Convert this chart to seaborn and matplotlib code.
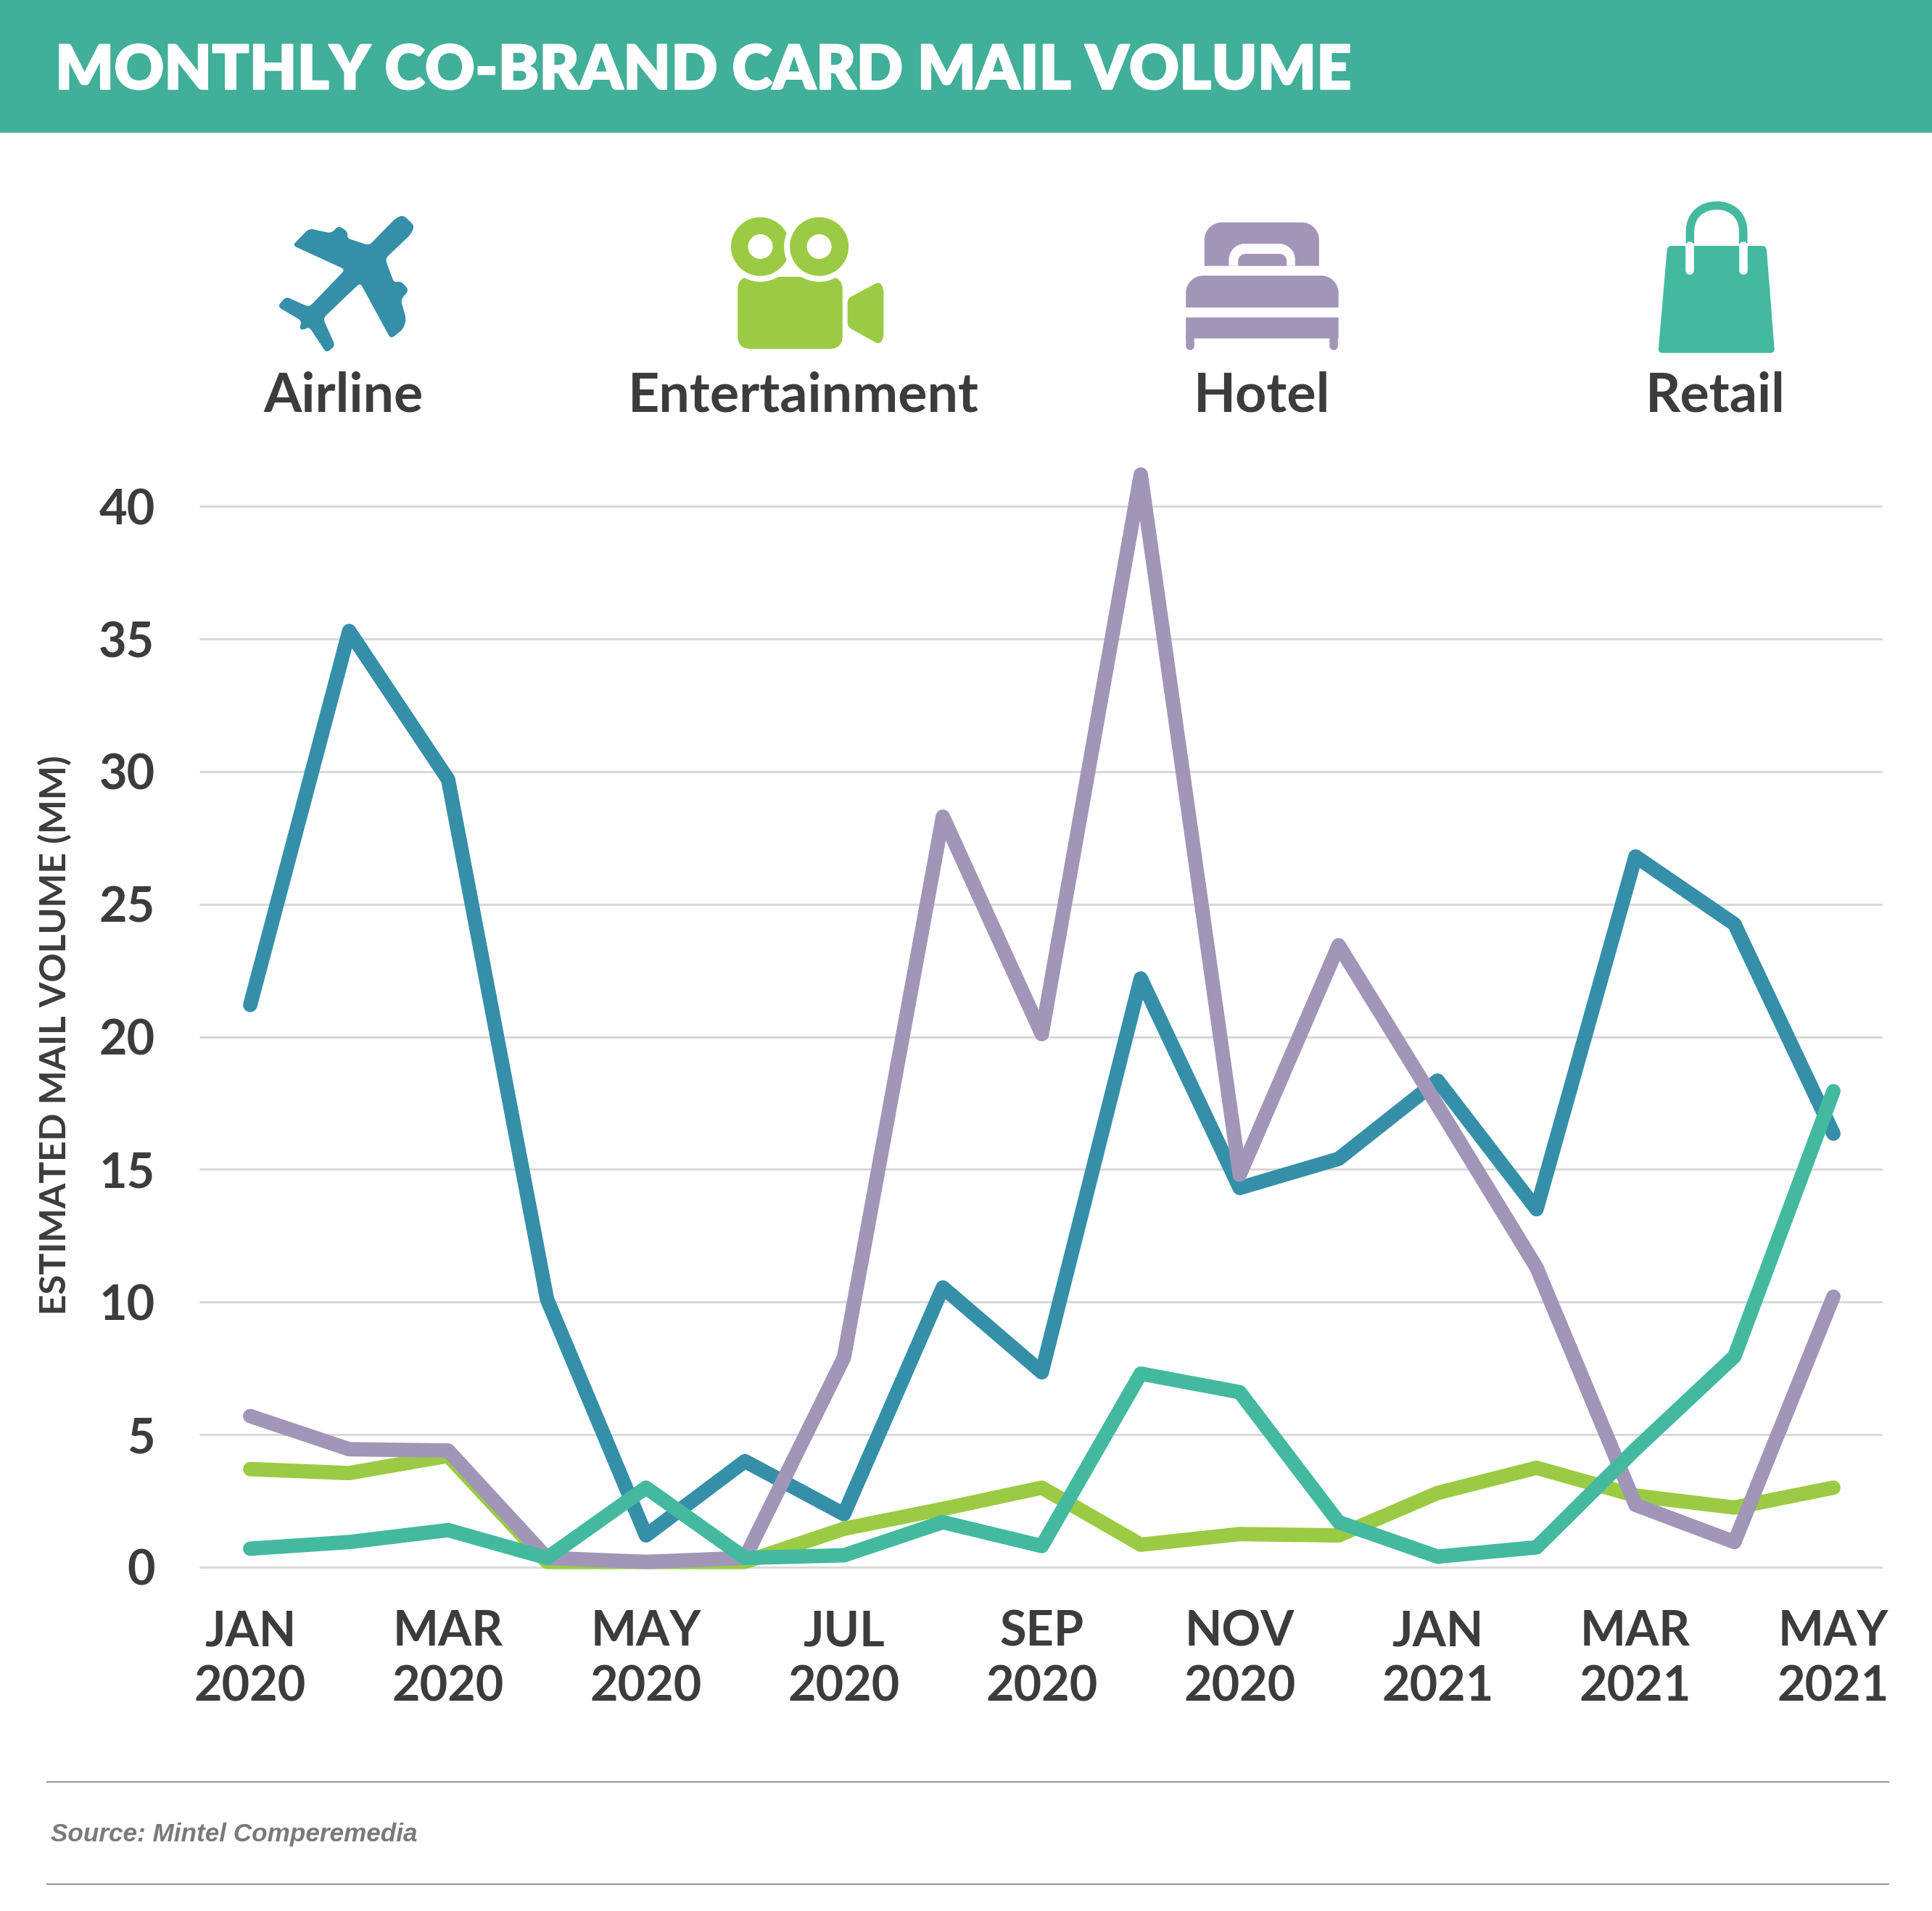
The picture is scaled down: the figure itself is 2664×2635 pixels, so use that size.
import numpy as np
import pandas as pd
import matplotlib
matplotlib.use("Agg")
import matplotlib.pyplot as plt
import matplotlib.patheffects as pe
from matplotlib.patches import Polygon, Circle, PathPatch, FancyBboxPatch, Rectangle
from matplotlib.path import Path
import seaborn as sns

months = ["Jan 2020","Feb 2020","Mar 2020","Apr 2020","May 2020","Jun 2020","Jul 2020","Aug 2020","Sep 2020",
          "Oct 2020","Nov 2020","Dec 2020","Jan 2021","Feb 2021","Mar 2021","Apr 2021","May 2021"]
airline = [21.2,35.3,29.7,10.1,1.2,4.0,2.0,10.55,7.35,22.2,14.3,15.4,18.35,13.5,26.8,24.25,16.35]
entertainment = [3.7,3.55,4.2,0.2,0.2,0.2,1.45,2.2,3.0,0.85,1.25,1.2,2.8,3.75,2.7,2.25,3.0]
hotel = [5.7,4.45,4.4,0.35,0.2,0.35,7.9,28.3,20.1,41.2,14.8,23.45,17.4,11.3,2.35,0.95,10.2]
retail = [0.7,0.95,1.4,0.35,3.0,0.35,0.45,1.7,0.8,7.3,6.6,1.7,0.4,0.75,4.45,7.95,17.95]
series_names = ["Airline","Entertainment","Hotel","Retail"]
series_colors = ["#368FA9","#9BCB44","#A196B8","#43BA9F"]
x_tick_labels = ["JAN\n2020","MAR\n2020","MAY\n2020","JUL\n2020","SEP\n2020","NOV\n2020","JAN\n2021","MAR\n2021","MAY\n2021"]
y_ticks = [0,5,10,15,20,25,30,35,40]
title = "MONTHLY CO-BRAND CARD MAIL VOLUME"
y_label = "ESTIMATED MAIL VOLUME (MM)"
source = "Source: Mintel Comperemedia"

W, H = 2664, 2635
DARK = "#3C3C3C"
sns.set_theme(style="white")
plt.rcParams["font.family"] = ["Lato", "DejaVu Sans"]

fig = plt.figure(figsize=(W/100, H/100), dpi=100, facecolor="white")

L, R, Y0, PXV = 276, 2594, 2161, 36.57
TOP = Y0 - 42*PXV
ax = fig.add_axes([L/W, 1-Y0/H, (R-L)/W, (Y0-TOP)/H])

n = len(months)
df = pd.DataFrame({
    "idx": list(range(n))*4,
    "value": airline+entertainment+hotel+retail,
    "series": [s for s in series_names for _ in range(n)],
})
sns.lineplot(data=df, x="idx", y="value", hue="series", hue_order=series_names,
             palette=dict(zip(series_names, series_colors)), linewidth=14.3,
             legend=False, errorbar=None, ax=ax, clip_on=False, zorder=3,
             solid_capstyle="round", solid_joinstyle="round")
ax.set_xlim((L-345)/136.44, (R-345)/136.44)
ax.set_ylim(0, 42)
ax.set_xticks(range(0, n, 2), x_tick_labels)
ax.set_yticks(y_ticks)
ax.set_xlabel("")
ax.set_ylabel("")
for s in ax.spines.values():
    s.set_visible(False)
ax.grid(axis="y", color="#D9D9D9", linewidth=2.2, clip_on=False)
ax.set_axisbelow(True)
ax.patch.set_alpha(0)
ax.tick_params(axis="y", length=0, pad=45, labelsize=48, labelcolor=DARK)
ax.tick_params(axis="x", length=0, pad=42, labelsize=48, labelcolor=DARK)
for t in ax.get_xticklabels()+ax.get_yticklabels():
    t.set_fontweight("bold")
    t.set_linespacing(1.29)

ov = fig.add_axes([0,0,1,1], zorder=-1)
ov.set_xlim(0, W); ov.set_ylim(H, 0); ov.axis("off")
ov.add_patch(Rectangle((0,0), W, 183, color="#41AF99", lw=0))
ov.text(76, 123, title, color="white", fontsize=61, fontweight="heavy", va="baseline", ha="left",
        path_effects=[pe.withStroke(linewidth=1.2, foreground="white")])
for nm, cx in zip(series_names, [474, 1108, 1740, 2365]):
    ov.text(cx, 568, nm, color=DARK, fontsize=54.3, fontweight="bold", ha="center", va="baseline")
ov.text(76, 1427, y_label, color=DARK, fontsize=35.8, fontweight="bold", rotation=90, ha="center", va="center")
ov.text(70, 2539, source, color="#7A7A7A", fontsize=25.3, family="Liberation Sans",
        fontweight="bold", fontstyle="italic", va="baseline")
for y in (2457, 2598):
    ov.plot([64, 2605], [y, y], color="#999999", lw=1.6, solid_capstyle="butt")

def z1(p): return [(300+x*1200/1568, 240+y*370/1110) for x, y in p]
def z2(p): return [(1500+x*1000/1568, 240+y*370/1110) for x, y in p]

def rounded(pts, r, fc):
    """Closed icon shape with its corners softened by radius r (pixels)."""
    p = np.array(pts, float)
    m = len(p)
    verts, codes = [], []
    for i in range(m):
        a, v, b = p[i-1], p[i], p[(i+1) % m]
        da, db = a-v, b-v
        la, lb = np.hypot(*da), np.hypot(*db)
        s = v + da/la*min(r, la/2)
        e = v + db/lb*min(r, lb/2)
        verts += [s, v, e]
        codes += [Path.MOVETO if i == 0 else Path.LINETO, Path.CURVE3, Path.CURVE3]
    verts.append(verts[0]); codes.append(Path.CLOSEPOLY)
    ov.add_patch(PathPatch(Path(verts, codes), fc=fc, ec="none"))

plane = [(335,170),(355,215),(348,250),(302,350),(318,450),(330,442),(345,480),(330,520),(340,600),(335,640),
         (312,682),(257,450),(190,597),(212,710),(196,740),(165,632),(155,645),(147,640),(152,608),(108,548),
         (123,507),(165,550),(230,395),(135,295),(165,225),(205,245),(218,213),(235,240),(233,265),(273,295),(322,180)]
rounded(z1(plane), 6, series_colors[0])

green = series_colors[1]
(bx0, by0), (bx1, by1) = z1([(937,425),(1126,723)])
ov.add_patch(FancyBboxPatch((bx0+18, by0+18), bx1-bx0-36, by1-by0-36, boxstyle="round,pad=18,rounding_size=18", fc=green, ec="none"))
for cxz in (978, 1084):
    c = z1([(cxz,300)])[0]
    ov.add_patch(Circle(c, 48.5, fc="white", ec="none"))
    ov.add_patch(Circle(c, 40.5, fc=green, ec="none"))
    ov.add_patch(Circle(c, 17, fc="white", ec="none"))
rounded(z1([(1135,515),(1192,445),(1200,470),(1200,680),(1192,705),(1135,632)]), 6, green)

def top_round(x0, y0, x1, y1, r, fc):
    k = 0.55*r
    verts = [(x0,y1),(x0,y0+r),(x0,y0+r-k),(x0+r-k,y0),(x0+r,y0),(x1-r,y0),(x1-r+k,y0),(x1,y0+r-k),(x1,y0+r),(x1,y1),(x0,y1)]
    codes = [Path.MOVETO,Path.LINETO,Path.CURVE4,Path.CURVE4,Path.CURVE4,Path.LINETO,Path.CURVE4,Path.CURVE4,Path.CURVE4,Path.LINETO,Path.CLOSEPOLY]
    ov.add_patch(PathPatch(Path(verts, codes), fc=fc, ec="none"))

purple = series_colors[2]
def bed_rect(a, b, r, fc):
    (x0,y0),(x1,y1) = z2([a,b])
    top_round(x0,y0,x1,y1,r,fc)
bed_rect((252,200),(500,380),24,purple)
bed_rect((305,288),(448,380),22,"white")
bed_rect((325,330),(430,380),10,purple)
bed_rect((212,420),(542,552),24,purple)
bed_rect((212,593),(542,680),0.01,purple)
for xz in (221, 532):
    a, b = z2([(xz,670),(xz,710)])
    ov.plot([a[0],b[0]],[a[1],b[1]], color=purple, lw=8.3, solid_capstyle="round")

teal = series_colors[3]
rounded(z2([(1253,297),(1467,297),(1485,740),(1233,740)]), 6, teal)
hp = z2([(1302,300),(1302,240),(1302,165),(1330,130),(1360,130),(1390,130),(1417,165),(1417,240),(1417,300)])
ov.add_patch(PathPatch(Path(hp,[Path.MOVETO,Path.LINETO,Path.CURVE4,Path.CURVE4,Path.CURVE4,Path.CURVE4,Path.CURVE4,Path.CURVE4,Path.LINETO]),
                       fc="none", ec=teal, lw=8.3, capstyle="butt"))
for xz in (1302,1417):
    a,b = z2([(xz,297),(xz,398)])
    ov.plot([a[0],b[0]],[a[1],b[1]], color="white", lw=8.3, solid_capstyle="round")
    ov.plot([a[0],a[0]],[a[1]-3,a[1]+3], color="white", lw=8.3, solid_capstyle="butt")

fig.savefig("out.png", dpi=100, facecolor="white")
